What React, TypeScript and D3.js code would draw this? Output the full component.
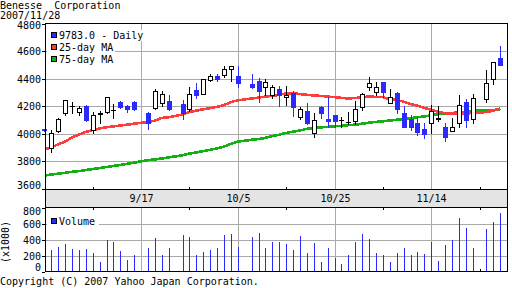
import React from "react";
import * as d3 from "d3";

const tradeDates = [
  "2007-08-28","2007-08-29","2007-08-30","2007-08-31","2007-09-03","2007-09-04","2007-09-05","2007-09-06","2007-09-07","2007-09-10",
  "2007-09-11","2007-09-12","2007-09-13","2007-09-14","2007-09-18","2007-09-19","2007-09-20","2007-09-21","2007-09-25","2007-09-26",
  "2007-09-27","2007-09-28","2007-10-01","2007-10-02","2007-10-03","2007-10-04","2007-10-05","2007-10-09","2007-10-10","2007-10-11",
  "2007-10-12","2007-10-15","2007-10-16","2007-10-17","2007-10-18","2007-10-19","2007-10-22","2007-10-23","2007-10-24","2007-10-25",
  "2007-10-26","2007-10-29","2007-10-30","2007-10-31","2007-11-01","2007-11-02","2007-11-05","2007-11-06","2007-11-07","2007-11-08",
  "2007-11-09","2007-11-12","2007-11-13","2007-11-14","2007-11-15","2007-11-16","2007-11-19","2007-11-20","2007-11-21","2007-11-22",
  "2007-11-26","2007-11-27","2007-11-28",
];
const openP = [
  4035,3896,4024,4151,4207,4163,4204,4029,4148,4163,
  4175,4236,4207,4233,4155,4187,4224,4241,4217,4180,
  4321,4292,4394,4423,4426,4473,4423,4365,4382,4341,
  4285,4326,4268,4300,4126,4168,4005,4193,4110,4139,
  4102,4088,4097,4200,4341,4309,4377,4229,4301,4155,
  4109,4080,4034,4078,4112,4049,4024,4082,4236,4107,
  4253,4399,4553,
];
const highP = [
  4040,4029,4115,4250,4230,4205,4210,4163,4167,4270,
  4220,4241,4212,4241,4163,4326,4316,4285,4245,4345,
  4372,4402,4436,4440,4498,4498,4496,4435,4406,4399,
  4358,4350,4350,4314,4200,4224,4150,4207,4270,4141,
  4126,4160,4241,4301,4418,4380,4380,4326,4303,4205,
  4140,4127,4078,4212,4204,4078,4115,4285,4253,4292,
  4462,4525,4637,
];
const lowP = [
  4025,3871,4012,4136,4155,4139,4097,4005,4078,4150,
  4115,4188,4163,4175,4034,4180,4207,4175,4112,4170,
  4262,4290,4382,4389,4418,4388,4345,4331,4236,4285,
  4260,4207,4212,4131,4110,4073,3980,4115,4050,4049,
  4049,4070,4073,4175,4321,4285,4268,4224,4155,4049,
  4029,3993,3970,4005,4097,3951,4022,4049,4049,4082,
  4236,4365,4499,
];
const closeP = [
  4028,4005,4107,4248,4207,4187,4102,4139,4155,4268,
  4175,4200,4185,4185,4082,4316,4290,4182,4155,4290,
  4285,4400,4423,4399,4473,4496,4374,4345,4316,4379,
  4345,4285,4285,4200,4180,4078,4102,4155,4097,4097,
  4102,4088,4180,4292,4370,4345,4309,4268,4182,4053,
  4053,4017,4000,4165,4117,3975,4049,4212,4102,4260,
  4374,4523,4499,
];
const volumeK: (number | null)[] = [
  null,274,312,349,286,274,286,236,126,400,
  375,261,152,210,299,425,210,299,463,438,
  210,248,274,299,463,476,312,438,488,299,
  375,375,349,274,450,236,362,122,299,173,
  97,210,375,476,413,236,210,122,236,299,
  210,248,223,375,135,337,400,678,552,299,
  539,627,741,
];
const ma25 = [
  3888,3903,3925,3945,3975,3995,4015,4029,4040,4049,
  4055,4062,4068,4075,4088,4097,4117,4122,4142,4160,
  4170,4180,4188,4198,4210,4232,4245,4258,4265,4272,
  4277,4285,4295,4297,4290,4285,4280,4277,4272,4268,
  4263,4258,4262,4268,4272,4270,4268,4253,4248,4235,
  4219,4205,4190,4175,4163,4151,4148,4148,4150,4152,
  4160,4170,4187,
];
const ma75 = [
  3698,3705,3712,3718,3725,3730,3738,3745,3752,3760,
  3768,3775,3783,3792,3810,3815,3822,3830,3845,3858,
  3866,3876,3885,3895,3908,3928,3944,3958,3963,3972,
  3985,3995,4008,4017,4025,4038,4043,4048,4052,4056,
  4060,4064,4068,4075,4082,4088,4092,4098,4104,4108,
  4115,4122,4128,4135,4145,4150,4153,4157,4163,4168,
  4172,4175,4180,
];
const priceTicks = [3600, 3800, 4000, 4200, 4400, 4600, 4800];
const volumeTicks = [0, 200, 400, 600, 800];
const majorDates = ["2007-09-17", "2007-10-05", "2007-10-25", "2007-11-14"];
const majorLabels = ["9/17", "10/5", "10/25", "11/14"];
const minorDates = ["2007-09-06", "2007-09-26", "2007-10-16", "2007-11-05", "2007-11-23"];
const legendItems = ["9783.0 - Daily", "25-day MA", "75-day MA"];
const titleText = "Benesse  Corporation";
const dateText = "2007/11/28";
const copyrightText = "Copyright (C) 2007 Yahoo Japan Corporation.";

const BLUE = "#2a2aff";
const RED = "#ff3b3b";
const GREEN = "#12b012";
const GRID = "#a9a9a9";
const BAND = "#e4e4e4";
const FONT = "'DejaVu Sans Mono', 'Liberation Mono', monospace";

const parse = (s: string) => {
  const [y, m, d] = s.split("-").map(Number);
  return new Date(y, m - 1, d);
};
const startDay = parse(tradeDates[0]);
const weekdayIndex = (s: string) =>
  d3.timeDays(startDay, parse(s)).filter((d) => d.getDay() % 6 !== 0).length;

// layout
const L = 45, R = 507;
const PT = 24, PB = 189; // price panel
const BB = 207; // band bottom
const VB = 271; // volume bottom

export default function App() {
  const x = d3.scaleLinear().domain([0, 66]).range([44.4, 500.3]);
  const px = (s: string) => Math.round(x(weekdayIndex(s)));
  const yP = d3.scaleLinear().domain([3600, 4800]).range([189, 24]);
  const yV = d3.scaleLinear().domain([0, 800]).range([271.6, 208.4]);

  const rows = tradeDates.map((d, i) => ({
    d, i, o: openP[i], h: highP[i], l: lowP[i], c: closeP[i], v: volumeK[i],
  }));

  const maLine = d3.line<number>()
    .x((_, i) => x(weekdayIndex(tradeDates[i])))
    .y((v) => yP(v));

  const textStyle = { fontFamily: FONT, fontSize: 10, style: { whiteSpace: "pre" as const } };

  return (
    <svg width={512} height={288} style={{ position: "absolute", left: 0, top: 0, background: "#fff" }}
      shapeRendering="crispEdges">
      <defs>
        <clipPath id="plotClip">
          <rect x={L} y={PT} width={R - L} height={PB - PT} />
        </clipPath>
      </defs>
      <rect x={0} y={0} width={512} height={288} fill="#fff" />

      {/* title */}
      <text x={0} y={9} {...textStyle} fill="#000" xmlSpace="preserve">{titleText}</text>
      <text x={0} y={19} {...textStyle} fill="#000">{dateText}</text>

      {/* price gridlines */}
      {priceTicks.filter((t) => t > 3600 && t < 4800).map((t) => (
        <line key={"pg" + t} x1={L} x2={R} y1={Math.floor(yP(t)) + 0.5} y2={Math.floor(yP(t)) + 0.5} stroke={GRID} />
      ))}
      {majorDates.map((d) => (
        <g key={"vg" + d}>
          <line x1={px(d) + 0.5} x2={px(d) + 0.5} y1={PT} y2={PB} stroke={GRID} />
          <line x1={px(d) + 0.5} x2={px(d) + 0.5} y1={BB} y2={VB} stroke={GRID} />
        </g>
      ))}
      {/* volume gridlines */}
      {volumeTicks.filter((t) => t > 0 && t < 800).map((t) => (
        <line key={"vgl" + t} x1={L} x2={R} y1={Math.round(yV(t)) + 0.5} y2={Math.round(yV(t)) + 0.5} stroke={GRID} />
      ))}

      {/* moving averages */}
      <g clipPath="url(#plotClip)">
        <path d={maLine(ma75) || ""} fill="none" stroke={GREEN} strokeWidth={2.6} />
        <path d={maLine(ma25) || ""} fill="none" stroke={RED} strokeWidth={2.6} />
      </g>

      {/* candles */}
      {rows.map((r) => {
        const cx = px(r.d);
        const up = r.c >= r.o;
        const top = Math.round(yP(Math.max(r.o, r.c)));
        const bot = Math.round(yP(Math.min(r.o, r.c)));
        const hi = Math.round(yP(r.h));
        const lo = Math.round(yP(r.l));
        const col = up ? "#000" : BLUE;
        return (
          <g key={"c" + r.d}>
            <rect x={cx} y={hi} width={1} height={lo - hi + 1} fill={col} />
            {up ? (
              bot - top >= 2 ? (
                <rect x={cx - 1.5} y={top + 0.5} width={4} height={bot - top} fill="#fff" stroke="#000" />
              ) : (
                <rect x={cx - 2} y={top} width={5} height={bot - top + 1} fill="#000" />
              )
            ) : (
              <rect x={cx - 2} y={top} width={5} height={Math.max(bot - top, 1) + 1} fill={BLUE} />
            )}
          </g>
        );
      })}

      {/* legend */}
      {legendItems.map((t, k) => {
        const base = 39 + k * 12;
        const col = [BLUE, RED, GREEN][k];
        return (
          <g key={"lg" + k}>
            <rect x={47} y={base - 9} width={8 + 6.02 * t.length + 6} height={11} fill="#fff" />
            <rect x={51.5} y={base - 6.5} width={5} height={5} fill={col} stroke="#000" />
            <text x={59} y={base} {...textStyle} fill="#000">{t}</text>
          </g>
        );
      })}

      {/* date band */}
      <rect x={L} y={PB} width={R - L} height={BB - PB} fill={BAND} />
      {majorDates.map((d, k) => (
        <text key={"dl" + d} x={px(d) + 0.5} y={201.5} textAnchor="middle" {...textStyle} fill="#000">{majorLabels[k]}</text>
      ))}

      {/* minor ticks */}
      {minorDates.map((d) => (
        <g key={"mt" + d}>
          <line x1={px(d) + 0.5} x2={px(d) + 0.5} y1={PB - 2} y2={PB} stroke="#000" />
          <line x1={px(d) + 0.5} x2={px(d) + 0.5} y1={BB} y2={BB + 3} stroke="#000" />
          <line x1={px(d) + 0.5} x2={px(d) + 0.5} y1={VB - 2} y2={VB} stroke="#000" />
        </g>
      ))}

      {/* volume bars */}
      {rows.filter((r) => r.v != null).map((r) => {
        const cx = px(r.d);
        const top = Math.round(yV(r.v as number));
        return <rect key={"v" + r.d} x={cx} y={top} width={1} height={VB - top} fill={BLUE} />;
      })}

      {/* volume legend */}
      <rect x={47} y={215} width={52} height={11} fill="#fff" />
      <rect x={51.5} y={218.5} width={5} height={5} fill={BLUE} stroke="#000" />
      <text x={59} y={224.5} {...textStyle} fill="#000">Volume</text>

      {/* frames */}
      <rect x={L + 0.5} y={PT - 0.5} width={R - L} height={PB - PT + 0.5} fill="none" stroke="#000" />
      <line x1={L} x2={R + 1} y1={BB + 0.5} y2={BB + 0.5} stroke="#000" />
      <line x1={L + 0.5} x2={L + 0.5} y1={PB} y2={BB} stroke="#000" />
      <line x1={R + 0.5} x2={R + 0.5} y1={PB} y2={BB} stroke="#000" />
      <rect x={L + 0.5} y={BB + 0.5} width={R - L} height={VB - BB} fill="none" stroke="#000" />

      {/* price axis labels */}
      {priceTicks.map((t) => {
        const gy = Math.floor(yP(t)) + 0.5;
        const base = Math.min(Math.max(gy + 3.5, 28.5), 188.5);
        return (
          <g key={"pl" + t}>
            <line x1={42} x2={45} y1={gy} y2={gy} stroke="#000" />
            <text x={41} y={base} textAnchor="end" {...textStyle} fill="#000">{t}</text>
          </g>
        );
      })}
      {/* volume axis labels */}
      {volumeTicks.map((t) => {
        const gy = Math.round(yV(t)) + 0.5;
        const base = Math.min(Math.max(gy + 3.5, 215), 270.5);
        return (
          <g key={"vl" + t}>
            <line x1={42} x2={45} y1={gy} y2={gy} stroke="#000" />
            <text x={41} y={base} textAnchor="end" {...textStyle} fill="#000">{t}</text>
          </g>
        );
      })}
      <text transform="translate(9,242) rotate(-90)" textAnchor="middle" {...textStyle} fill="#000">(x1000)</text>

      {/* copyright */}
      <text x={0} y={284.5} {...textStyle} fill="#000">{copyrightText}</text>
    </svg>
  );
}
